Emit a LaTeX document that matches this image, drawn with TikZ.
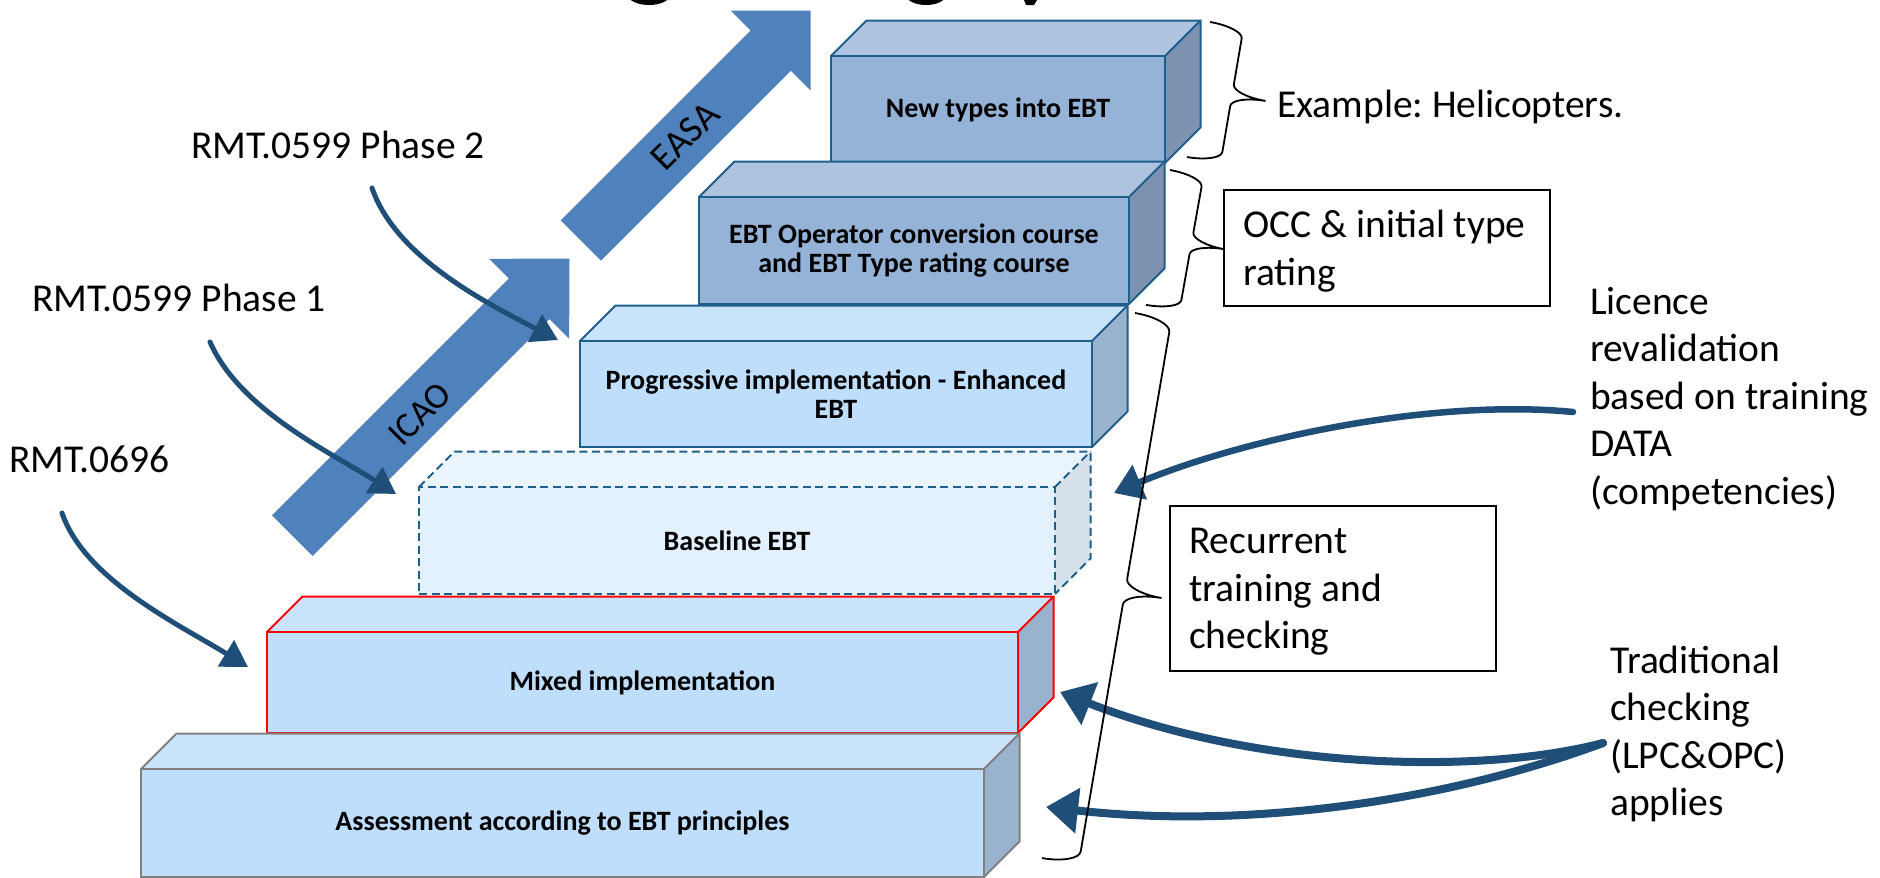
\documentclass[tikz,border=0pt]{standalone}
\usepackage{fontspec}
\setmainfont{Carlito}
\usetikzlibrary{arrows.meta}
\frenchspacing

\definecolor{arrblue}{RGB}{79,129,189}
\definecolor{boxline}{RGB}{31,95,140}
\definecolor{darkF}{RGB}{149,179,215}
\definecolor{darkT}{RGB}{173,195,224}
\definecolor{darkS}{RGB}{124,146,176}
\definecolor{lightF}{RGB}{190,222,252}
\definecolor{lightT}{RGB}{201,227,251}
\definecolor{lightS}{RGB}{153,178,206}
\definecolor{paleF}{RGB}{227,240,253}
\definecolor{paleT}{RGB}{233,244,253}
\definecolor{paleS}{RGB}{214,224,234}
\definecolor{pen}{RGB}{31,78,121}
\definecolor{stepgrey}{RGB}{128,128,128}

\tikzset{
  stepblue/.style={draw=boxline, line width=2pt, line join=miter},
  stepdash/.style={draw=boxline, line width=2pt, dash pattern=on 8pt off 4.5pt},
  stepred/.style={draw=red, line width=2pt, line join=miter},
  stepgray/.style={draw=stepgrey, line width=2pt, line join=miter},
  steplabel/.style={font=\bfseries\fontsize{28}{29}\selectfont, align=center, text=black},
  bigtext/.style={font=\fontsize{39.5}{47.5}\selectfont, anchor=base west, inner sep=0pt},
  infobox/.style={draw=black, line width=2.2pt, fill=white},
  bracestyle/.style={draw=black, line width=1.8pt},
  blockarrow/.style={fill=arrblue},
  penarrow/.style={draw=pen, line cap=round},
}

\def\dd{35.5}
\newcommand\ebtstep[8]{%
  \fill[#6T] (#2,#3) -- (#2+\dd,#3-\dd) -- (#4+\dd,#3-\dd) -- (#4,#3) -- cycle;
  \fill[#6S] (#4,#3) -- (#4+\dd,#3-\dd) -- (#4+\dd,#5-\dd) -- (#4,#5) -- cycle;
  \draw[#7] (#2,#3) -- (#2+\dd,#3-\dd) -- (#4+\dd,#3-\dd) -- (#4+\dd,#5-\dd) -- (#4,#5);
  \draw[#7] (#4,#3) -- (#4+\dd,#3-\dd);
  \node[#7, fill=#6F, minimum width={(#4-#2)*1pt}, minimum height={(#5-#3)*1pt},
        inner sep=0pt, steplabel] (#1) at ({(#2+#4)/2},{(#3+#5)/2}) {#8};
}

\newcommand\ebtbrace[5]{%
  \begin{scope}[shift={#1}, rotate=#2]
    \draw[bracestyle] (0,0) .. controls ({0.552*#4},0) and (#4,{0.448*#5}) .. (#4,#5)
      -- (#4,{#3/2-#5}) .. controls (#4,{#3/2-0.448*#5}) and ({1.448*#4},{#3/2}) .. ({2*#4},{#3/2})
      .. controls ({1.448*#4},{#3/2}) and (#4,{#3/2+0.448*#5}) .. (#4,{#3/2+#5})
      -- (#4,{#3-#5}) .. controls (#4,{#3-0.448*#5}) and ({0.552*#4},#3) .. (0,#3);
  \end{scope}}

\begin{document}
\begin{tikzpicture}[x=1pt,y=-1pt]
\useasboundingbox (0,0) rectangle (1880,878);
\fill[white] (0,0) rectangle (1880,878);

% fragments of the cut-off title
\begin{scope}
  \clip (0,0) rectangle (1880,5);
  \draw[line width=6pt] (649,-7) ellipse [x radius=19, y radius=9];
  \draw[line width=6pt] (926,-7) ellipse [x radius=18, y radius=9];
  \fill (1024,0) -- (1037,0) -- (1034,5) -- (1026,5) -- cycle;
\end{scope}

% block arrows
\begin{scope}[shift={(569.5,258.5)}, rotate=45]
  \fill[blockarrow] (0,0) -- (-57,-56.5) -- (-57,-28.75) -- (-392,-28.75) -- (-392,28.75) -- (-57,28.75) -- (-57,56.5) -- cycle;
\end{scope}
\begin{scope}[shift={(810.7,10.7)}, rotate=45]
  \fill[blockarrow] (0,0) -- (-56.5,-56.5) -- (-56.5,-28.5) -- (-325,-28.5) -- (-325,28.5) -- (-56.5,28.5) -- (-56.5,56.5) -- cycle;
\end{scope}
\node[rotate=45, font=\fontsize{38}{40}\selectfont] (easa) at (685,136) {EASA};
\node[rotate=45, font=\fontsize{36}{40}\selectfont] (icao) at (420,414) {ICAO};

% steps
\ebtstep{newtypes}{831}{56}{1165}{163}{dark}{stepblue}{New types into EBT}
\ebtstep{operator}{699}{197}{1129}{304}{dark}{stepblue}{EBT Operator conversion course\\and EBT Type rating course}
\ebtstep{progressive}{580}{341}{1092}{447}{light}{stepblue}{Progressive implementation - Enhanced\\EBT}
\ebtstep{baseline}{419}{487}{1055}{594}{pale}{stepdash}{Baseline EBT}
\ebtstep{mixed}{267}{632}{1018}{733}{light}{stepred}{Mixed implementation}
\ebtstep{assess}{141}{769}{984}{877}{light}{stepgray}{Assessment according to EBT principles}

% left labels
\node[bigtext] (ph2) at (191,158) {RMT.0599 Phase 2};
\node[bigtext] (ph1) at (32,311.5) {RMT.0599 Phase 1};
\node[bigtext] (r696) at (9,472.5) {RMT.0696};

% right labels
\node[bigtext] (heli) at (1277,117) {Example: Helicopters.};
\node[infobox, minimum width=326pt, minimum height=116pt] (occbox) at (1387,248) {};
\node[bigtext] (occa) at (1243,237) {OCC \& initial type};
\node[bigtext] (occb) at (1243,285) {rating};
\node[infobox, minimum width=326pt, minimum height=165pt] (recbox) at (1333,588.5) {};
\node[bigtext] (reca) at (1189,553) {Recurrent};
\node[bigtext] (recb) at (1189,601) {training and};
\node[bigtext] (recc) at (1189,648) {checking};
\node[bigtext] (lica) at (1590,314) {Licence};
\node[bigtext] (licb) at (1590,361.5) {revalidation};
\node[bigtext] (licc) at (1590,409) {based on training};
\node[bigtext] (licd) at (1590,456.5) {DATA};
\node[bigtext] (lice) at (1590,504) {(competencies)};
\node[bigtext] (tra) at (1610,673) {Traditional};
\node[bigtext] (trb) at (1610,720.5) {checking};
\node[bigtext] (trc) at (1610,768) {(LPC\&OPC)};
\node[bigtext] (trd) at (1610,815.5) {applies};

% pen arrows
\coordinate (p2s) at (372,188);   \coordinate (p2e) at (558,340);
\coordinate (p1s) at (210,342);   \coordinate (p1e) at (396,494);
\coordinate (r6s) at (62,513);    \coordinate (r6e) at (248,667);
\coordinate (lics) at (1573,412); \coordinate (licend) at (1114,493);
\coordinate (trs) at (1603,743);  \coordinate (tr1e) at (1060,692); \coordinate (tr2e) at (1046,807);

\draw[penarrow, line width=5pt, -{Triangle[length=26pt,width=30pt]}] (p2s) .. controls (395,255) and (480,300) .. (p2e);
\draw[penarrow, line width=5pt, -{Triangle[length=26pt,width=30pt]}] (p1s) .. controls (240,410) and (330,452) .. (p1e);
\draw[penarrow, line width=5pt, -{Triangle[length=26pt,width=30pt]}] (r6s) .. controls (85,580) and (180,625) .. (r6e);
\draw[penarrow, line width=6.5pt, -{Triangle[length=28pt,width=36pt]}] (lics) .. controls (1430,398) and (1240,440) .. (licend);
\draw[penarrow, line width=8pt, -{Triangle[length=32pt,width=44pt]}] (trs) .. controls (1480,775) and (1260,770) .. (tr1e);
\draw[penarrow, line width=8pt, -{Triangle[length=32pt,width=44pt]}] (trs) .. controls (1450,800) and (1250,830) .. (tr2e);

% braces
\ebtbrace{(1210,22)}{-9.67}{137}{34}{11}
\ebtbrace{(1170,170)}{-10.1}{137}{34}{11}
\ebtbrace{(1135,313)}{-9.68}{553}{37}{13}

\end{tikzpicture}
\end{document}
